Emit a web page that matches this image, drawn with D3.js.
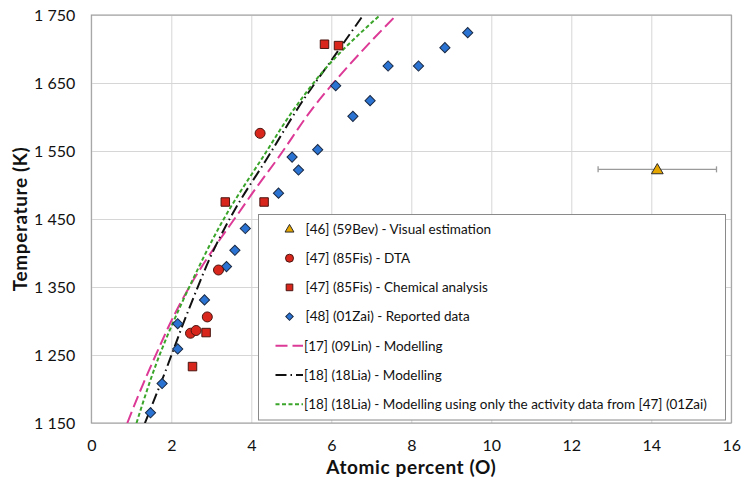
<!DOCTYPE html>
<html>
<head>
<meta charset="utf-8">
<script src="https://cdn.jsdelivr.net/npm/d3@7"></script>
<style>
  body { margin: 0; background: #fff; }
  text { font-family: Lato, "Open Sans", sans-serif; fill: #111; }
</style>
</head>
<body>
<svg id="chart" width="741" height="484"></svg>
<script>
// Axis ticks
const xTicks = [0, 2, 4, 6, 8, 10, 12, 14, 16];
const yTicks = [1150, 1250, 1350, 1450, 1550, 1650, 1750];

// [46] (59Bev) visual estimation: [x, T, xError]
const bev59 = [[14.15, 1523, 1.48]];

// [47] (85Fis) DTA
const fis85Dta = [[2.48, 1282], [2.62, 1286], [2.90, 1306], [3.18, 1375], [4.22, 1576]];

// [47] (85Fis) chemical analysis
const fis85Chem = [[2.53, 1233], [2.87, 1283], [3.35, 1475], [4.32, 1475], [5.83, 1707], [6.18, 1705]];

// [48] (01Zai) reported data
const zai01 = [
  [1.48, 1165], [1.77, 1208], [2.16, 1259], [2.16, 1296], [2.83, 1331],
  [3.38, 1380], [3.59, 1404], [3.85, 1436], [4.68, 1488], [5.18, 1522],
  [5.02, 1541], [5.66, 1552], [6.11, 1646], [6.54, 1601], [6.97, 1624],
  [7.42, 1675], [8.18, 1675], [8.84, 1702], [9.41, 1724]
];

// Modelled liquidus curves
const lin09 = [
  [0.90, 1150], [1.30, 1208], [1.65, 1255], [2.00, 1300], [2.50, 1355],
  [3.10, 1410], [3.65, 1456], [4.10, 1494], [4.60, 1534], [5.63, 1620],
  [6.72, 1694], [7.63, 1750]
];
const lia18 = [
  [1.34, 1150], [1.80, 1218], [2.43, 1316], [3.18, 1419], [3.63, 1468],
  [4.35, 1535], [5.30, 1625], [6.13, 1694], [6.80, 1750]
];
const lia18Act = [
  [1.13, 1150], [1.72, 1252], [2.45, 1350], [3.39, 1458], [4.30, 1542],
  [5.05, 1610], [5.97, 1679], [7.22, 1750]
];

const legendLabels = [
  "[46] (59Bev) - Visual estimation",
  "[47] (85Fis) - DTA",
  "[47] (85Fis) - Chemical analysis",
  "[48] (01Zai) - Reported data",
  "[17] (09Lin) - Modelling",
  "[18] (18Lia) - Modelling",
  "[18] (18Lia) - Modelling using only the activity data from [47] (01Zai)"
];

const W = 741, H = 484;
const margin = { top: 15, right: 9.7, bottom: 61, left: 91.3 };
const svg = d3.select("#chart");

const x = d3.scaleLinear().domain([0, 16]).range([margin.left, W - margin.right]);
const y = d3.scaleLinear().domain([1150, 1750]).range([H - margin.bottom, margin.top]);

const fmtT = d => d3.format(",")(d).replace(",", " ");

// Gridlines
svg.append("g")
  .attr("transform", `translate(0,${y(1150)})`)
  .call(d3.axisBottom(x).tickValues(xTicks).tickSize(-(y(1150) - y(1750))).tickFormat(""))
  .call(g => g.select(".domain").remove())
  .call(g => g.selectAll("line").attr("stroke", "#d6d6d6").attr("stroke-width", 1));
svg.append("g")
  .attr("transform", `translate(${x(0)},0)`)
  .call(d3.axisLeft(y).tickValues(yTicks).tickSize(-(x(16) - x(0))).tickFormat(""))
  .call(g => g.select(".domain").remove())
  .call(g => g.selectAll("line").attr("stroke", "#d6d6d6").attr("stroke-width", 1));

// Tick labels
const xAxis = svg.append("g")
  .attr("transform", `translate(0,${y(1150)})`)
  .call(d3.axisBottom(x).tickValues(xTicks).tickSize(0).tickPadding(17).tickFormat(d3.format("d")));
xAxis.select(".domain").remove();
xAxis.selectAll("text").attr("font-size", 16).attr("font-family", "Lato, sans-serif").attr("fill", "#111");

const yAxis = svg.append("g")
  .attr("transform", `translate(${x(0)},0)`)
  .call(d3.axisLeft(y).tickValues(yTicks).tickSize(0).tickPadding(16).tickFormat(fmtT));
yAxis.select(".domain").remove();
yAxis.selectAll("text").attr("font-size", 16).attr("font-family", "Lato, sans-serif").attr("fill", "#111");

// Plot frame
svg.append("rect")
  .attr("x", x(0)).attr("y", y(1750))
  .attr("width", x(16) - x(0)).attr("height", y(1150) - y(1750))
  .attr("fill", "none").attr("stroke", "#9a9a9a").attr("stroke-width", 1);

// Axis titles
svg.append("text")
  .attr("x", (x(0) + x(16)) / 2).attr("y", 474)
  .attr("text-anchor", "middle").attr("font-size", 19).attr("font-weight", "bold")
  .attr("letter-spacing", 0.6)
  .text("Atomic percent (O)");
svg.append("text")
  .attr("transform", `translate(27,${(y(1150) + y(1750)) / 2}) rotate(-90)`)
  .attr("text-anchor", "middle").attr("font-size", 19).attr("font-weight", "bold")
  .attr("letter-spacing", 0.6)
  .text("Temperature (K)");

// Clip region for curves
svg.append("clipPath").attr("id", "plotClip")
  .append("rect")
  .attr("x", x(0)).attr("y", y(1750))
  .attr("width", x(16) - x(0)).attr("height", y(1150) - y(1750));

const line = d3.line().x(d => x(d[0])).y(d => y(d[1])).curve(d3.curveMonotoneY);

const curveStyles = [
  { data: lin09, color: "#dc3a96", dash: "12,5" },
  { data: lia18, color: "#111111", dash: "11,4,1.5,4" },
  { data: lia18Act, color: "#3aa52a", dash: "4,2.5" }
];

const curves = svg.append("g").attr("clip-path", "url(#plotClip)");
curveStyles.forEach(c => {
  curves.append("path")
    .datum(c.data)
    .attr("d", line)
    .attr("fill", "none")
    .attr("stroke", c.color)
    .attr("stroke-width", 2)
    .attr("stroke-dasharray", c.dash);
});

// Marker styles
const blue = "#2a73d2", red = "#d9261c", gold = "#e6a600";
const dark = "#2b2b2b";

const sym = (type, size) => d3.symbol().type(type).size(size)();

// Error bar for the visual estimation
const eb = svg.append("g");
bev59.forEach(d => {
  eb.append("line").attr("x1", x(d[0] - d[2])).attr("x2", x(d[0] + d[2]))
    .attr("y1", y(d[1])).attr("y2", y(d[1])).attr("stroke", "#9a9a9a").attr("stroke-width", 1.3);
  [d[0] - d[2], d[0] + d[2]].forEach(v => {
    eb.append("line").attr("x1", x(v)).attr("x2", x(v))
      .attr("y1", y(d[1]) - 3).attr("y2", y(d[1]) + 3).attr("stroke", "#9a9a9a").attr("stroke-width", 1.3);
  });
});

// Diamonds
svg.append("g").selectAll("path").data(zai01).join("path")
  .attr("transform", d => `translate(${x(d[0])},${y(d[1])}) rotate(45)`)
  .attr("d", sym(d3.symbolSquare, 52))
  .attr("fill", blue).attr("stroke", "#1b2a44").attr("stroke-width", 1);

// Squares
svg.append("g").selectAll("path").data(fis85Chem).join("path")
  .attr("transform", d => `translate(${x(d[0])},${y(d[1])})`)
  .attr("d", sym(d3.symbolSquare, 72))
  .attr("fill", red).attr("stroke", "#4a1510").attr("stroke-width", 1);

// Circles
svg.append("g").selectAll("circle").data(fis85Dta).join("circle")
  .attr("cx", d => x(d[0])).attr("cy", d => y(d[1])).attr("r", 5)
  .attr("fill", red).attr("stroke", "#4a1510").attr("stroke-width", 1);

// Triangle
svg.append("g").selectAll("path").data(bev59).join("path")
  .attr("transform", d => `translate(${x(d[0])},${y(d[1]) + 1})`)
  .attr("d", sym(d3.symbolTriangle, 60))
  .attr("fill", gold).attr("stroke", dark).attr("stroke-width", 1);

// Legend
const lg = svg.append("g");
lg.append("rect")
  .attr("x", 258.5).attr("y", 214.5).attr("width", 467).attr("height", 205.5)
  .attr("fill", "#fff").attr("stroke", "#8a8a8a").attr("stroke-width", 1);

const rowY = i => 229 + i * 29.2;
const symX = 289.5;

lg.append("path").attr("transform", `translate(${symX},${rowY(0) + 0.5})`)
  .attr("d", sym(d3.symbolTriangle, 34)).attr("fill", gold).attr("stroke", dark).attr("stroke-width", 1);
lg.append("circle").attr("cx", symX).attr("cy", rowY(1)).attr("r", 4)
  .attr("fill", red).attr("stroke", "#4a1510").attr("stroke-width", 1);
lg.append("path").attr("transform", `translate(${symX},${rowY(2)})`)
  .attr("d", sym(d3.symbolSquare, 44)).attr("fill", red).attr("stroke", "#4a1510").attr("stroke-width", 1);
lg.append("path").attr("transform", `translate(${symX},${rowY(3)}) rotate(45)`)
  .attr("d", sym(d3.symbolSquare, 28)).attr("fill", blue).attr("stroke", "#1b2a44").attr("stroke-width", 1);

curveStyles.forEach((c, k) => {
  lg.append("line")
    .attr("x1", 275.5).attr("x2", 303).attr("y1", rowY(4 + k)).attr("y2", rowY(4 + k))
    .attr("stroke", c.color).attr("stroke-width", 2).attr("stroke-dasharray", c.dash);
});

legendLabels.forEach((t, i) => {
  lg.append("text")
    .attr("x", i < 4 ? 305.5 : 304).attr("y", rowY(i)).attr("dy", "0.35em")
    .attr("font-size", 13.5).text(t);
});
</script>
</body>
</html>
